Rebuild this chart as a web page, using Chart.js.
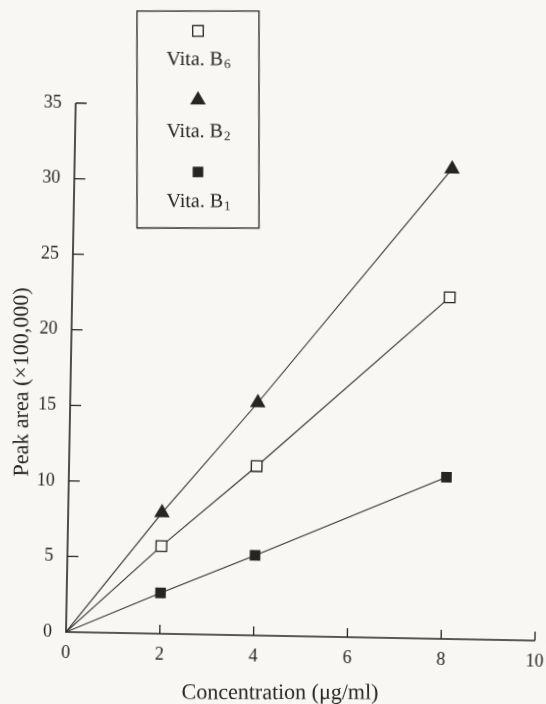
<!DOCTYPE html>
<html>
<head>
<meta charset="utf-8">
<script src="https://cdn.jsdelivr.net/npm/chart.js@4"></script>
<style>
  html, body { margin: 0; padding: 0; background: #f8f7f3; overflow: hidden; }
  #wrap { width: 546px; height: 704px; }
  /* the plotted frame sits slightly turned on the scanned page */
  #chart { transform-origin: 66px 632px; transform: rotate(1.05deg); }
</style>
</head>
<body>
<div id="wrap"><canvas id="chart" width="546" height="704"></canvas></div>
<script>
// values (line starts at origin, no marker there)
const concentration = [0, 2, 4, 8.05];
const vitaB6 = [0, 5.8, 11.2, 22.6];
const vitaB2 = [0, 8.0, 15.4, 31.1];
const vitaB1 = [0, 2.7, 5.3, 10.7];
const seriesNames = ['Vita. B|6', 'Vita. B|2', 'Vita. B|1']; // text|subscript
const xTicks = [0, 2, 4, 6, 8, 10];
const yTicks = [0, 5, 10, 15, 20, 25, 30, 35];
const xTitle = 'Concentration (μg/ml)';
const yTitle = 'Peak area (×100,000)';

const INK = '#272523';
const PAPER = '#f8f7f3';
const FONT = "'Liberation Serif', 'DejaVu Serif', serif";
const TILT = 1.05 * Math.PI / 180; // same as the css rotation
const ORIGIN = [66, 632];

function toPoints(ys) {
  return concentration.map((x, i) => ({ x: x, y: ys[i] }));
}
// no marker at the origin
const radii = (r) => concentration.map((x) => (x === 0 ? 0 : r));

const styles = [
  { pointStyle: 'rect', radius: 7.5, fill: PAPER, bw: 1.3 },     // B6 open square
  { pointStyle: 'triangle', radius: 9, fill: INK, bw: 0 },        // B2 triangle
  { pointStyle: 'rect', radius: 7.5, fill: INK, bw: 0 },          // B1 filled square
];
const values = [vitaB6, vitaB2, vitaB1];

const datasets = values.map((v, i) => ({
  label: seriesNames[i].replace('|', ''),
  data: toPoints(v),
  borderColor: '#34322f',
  borderWidth: 1.1,
  pointStyle: styles[i].pointStyle,
  pointRadius: radii(styles[i].radius),
  pointHoverRadius: radii(styles[i].radius),
  pointBackgroundColor: styles[i].fill,
  pointBorderColor: INK,
  pointBorderWidth: styles[i].bw,
  tension: 0,
  fill: false,
}));

// undo the page tilt so that titles and legend stand upright
function upright(ctx) {
  ctx.translate(ORIGIN[0], ORIGIN[1]);
  ctx.rotate(-TILT);
  ctx.translate(-ORIGIN[0], -ORIGIN[1]);
}

// axis lines, inward ticks, axis titles and the boxed legend
const paperPlugin = {
  id: 'paper',
  beforeDraw(chart) {
    const ctx = chart.ctx;
    ctx.save();
    ctx.fillStyle = PAPER;
    ctx.fillRect(0, 0, chart.width, chart.height);
    ctx.restore();
  },
  afterDraw(chart) {
    const ctx = chart.ctx;
    const xs = chart.scales.x;
    const ys = chart.scales.y;
    const left = xs.getPixelForValue(0);
    const bottom = ys.getPixelForValue(0);
    ctx.save();
    ctx.strokeStyle = INK;
    ctx.lineWidth = 1.6;
    ctx.beginPath();
    ctx.moveTo(left, ys.getPixelForValue(35));
    ctx.lineTo(left, bottom);
    ctx.lineTo(xs.getPixelForValue(10), bottom);
    ctx.stroke();

    ctx.lineWidth = 1.3;
    ctx.beginPath();
    yTicks.forEach((v) => {
      if (v === 0) return;
      const py = ys.getPixelForValue(v);
      ctx.moveTo(left, py);
      ctx.lineTo(left + 11, py);
    });
    xTicks.forEach((v) => {
      if (v === 0) return;
      const px = xs.getPixelForValue(v);
      ctx.moveTo(px, bottom);
      ctx.lineTo(px, bottom - 9);
    });
    ctx.stroke();

    upright(ctx);

    // axis titles
    ctx.fillStyle = INK;
    ctx.font = '22px ' + FONT;
    ctx.textAlign = 'center';
    ctx.textBaseline = 'alphabetic';
    ctx.fillText(xTitle, 280, 699);
    ctx.save();
    ctx.translate(28, 382);
    ctx.rotate(-Math.PI / 2);
    ctx.fillText(yTitle, 0, 0);
    ctx.restore();

    // legend box
    ctx.strokeStyle = INK;
    ctx.lineWidth = 1.3;
    ctx.strokeRect(137, 11, 122, 217);
    const cx = 198;
    const rows = [31, 100, 172];
    const baselines = [65, 137, 207];
    rows.forEach((my, i) => {
      ctx.fillStyle = styles[i].fill;
      ctx.strokeStyle = INK;
      ctx.lineWidth = styles[i].bw;
      Chart.helpers.drawPoint(ctx, {
        pointStyle: styles[i].pointStyle,
        radius: styles[i].radius,
        rotation: 0,
        borderWidth: styles[i].bw,
      }, cx, my);
      const [main, sub] = seriesNames[i].split('|');
      ctx.font = '20px ' + FONT;
      const w1 = ctx.measureText(main).width;
      ctx.font = '13px ' + FONT;
      const w2 = ctx.measureText(sub).width;
      const sx = cx - (w1 + w2) / 2;
      const ty = baselines[i];
      ctx.fillStyle = INK;
      ctx.textAlign = 'left';
      ctx.font = '20px ' + FONT;
      ctx.fillText(main, sx, ty);
      ctx.font = '13px ' + FONT;
      ctx.fillText(sub, sx + w1 + 1, ty + 3);
    });
    ctx.restore();
  },
};

new Chart(document.getElementById('chart'), {
  type: 'line',
  data: { datasets: datasets },
  options: {
    responsive: false,
    animation: false,
    layout: { padding: { top: 103, right: 9, bottom: 0, left: 0 } },
    plugins: {
      legend: { display: false },
      tooltip: { enabled: false },
    },
    scales: {
      x: {
        type: 'linear',
        min: 0,
        max: 10,
        afterBuildTicks: (s) => { s.ticks = xTicks.map((v) => ({ value: v })); },
        afterFit: (s) => { s.height = 72; },
        grid: { display: false },
        border: { display: false },
        ticks: {
          color: INK,
          padding: 2,
          maxRotation: 0,
          font: { family: FONT, size: 18 },
        },
      },
      y: {
        min: 0,
        max: 35,
        afterBuildTicks: (s) => { s.ticks = yTicks.map((v) => ({ value: v })); },
        afterFit: (s) => { s.width = 66; },
        grid: { display: false },
        border: { display: false },
        ticks: {
          color: INK,
          padding: 6,
          font: { family: FONT, size: 18 },
        },
      },
    },
  },
  plugins: [paperPlugin],
});
</script>
</body>
</html>
